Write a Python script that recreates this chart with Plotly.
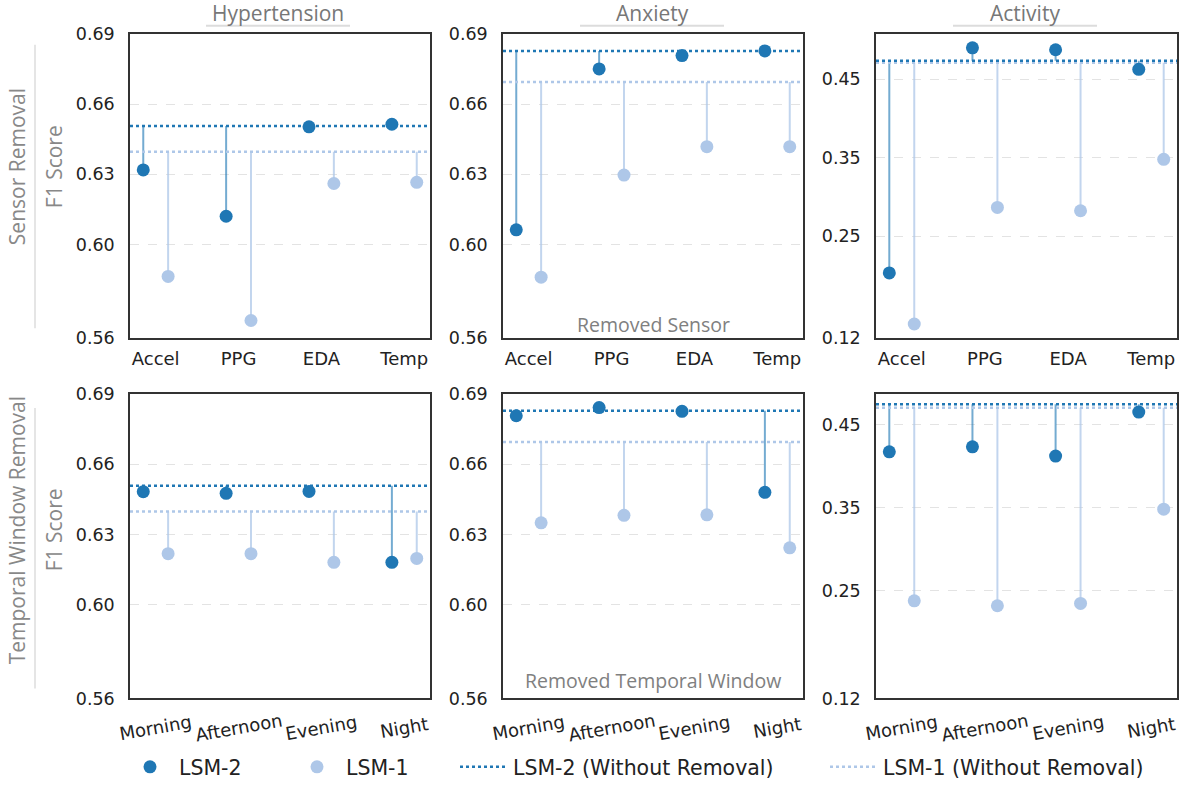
import plotly.graph_objects as go

W, H = 1181, 787

# ---------------- data ----------------
tasks = ["Hypertension", "Anxiety", "Activity"]
sensor_cats = ["Accel", "PPG", "EDA", "Temp"]
window_cats = ["Morning", "Afternoon", "Evening", "Night"]

# baselines (without removal)
lsm2_base_sensor = [0.6506, 0.6827, 0.4737]
lsm1_base_sensor = [0.6397, 0.6694, 0.4712]
lsm2_base_window = [0.6508, 0.6828, 0.4747]
lsm1_base_window = [0.6398, 0.6695, 0.4704]

# sensor removal
hyp_sensor_lsm2 = [0.6319, 0.6121, 0.6503, 0.6514]
hyp_sensor_lsm1 = [0.5864, 0.5676, 0.6261, 0.6266]
anx_sensor_lsm2 = [0.6063, 0.6750, 0.6807, 0.6827]
anx_sensor_lsm1 = [0.5861, 0.6297, 0.6418, 0.6418]
act_sensor_lsm2 = [0.2033, 0.4902, 0.4877, 0.4627]
act_sensor_lsm1 = [0.1382, 0.2867, 0.2825, 0.3480]

# temporal window removal
hyp_window_lsm2 = [0.6483, 0.6476, 0.6484, 0.6181]
hyp_window_lsm1 = [0.6218, 0.6218, 0.6181, 0.6198]
anx_window_lsm2 = [0.6807, 0.6842, 0.6826, 0.6480]
anx_window_lsm1 = [0.6350, 0.6382, 0.6384, 0.6243]
act_window_lsm2 = [0.4173, 0.4233, 0.4121, 0.4652]
act_window_lsm1 = [0.2377, 0.2317, 0.2345, 0.3482]

f1_ticks = [0.56, 0.60, 0.63, 0.66, 0.69]
act_ticks = [0.12, 0.25, 0.35, 0.45]

# ---------------- style ----------------
C2 = "#1f77b4"
C1 = "#aec7e8"
STEM2 = "rgba(31,119,180,0.62)"
STEM1 = "rgba(174,199,232,0.75)"
OFF = 0.15
XR = [-0.31, 3.31]

col_dom = [(130 / W, 430 / W), (503 / W, 803 / W), (876 / W, 1177 / W)]
row_dom = [(1 - 340 / H, 1 - 34 / H), (1 - 702 / H, 1 - 396 / H)]

panels = [
    (0, 0, sensor_cats, hyp_sensor_lsm2, hyp_sensor_lsm1, lsm2_base_sensor[0], lsm1_base_sensor[0], [0.56, 0.69], f1_ticks),
    (0, 1, sensor_cats, anx_sensor_lsm2, anx_sensor_lsm1, lsm2_base_sensor[1], lsm1_base_sensor[1], [0.56, 0.69], f1_ticks),
    (0, 2, sensor_cats, act_sensor_lsm2, act_sensor_lsm1, lsm2_base_sensor[2], lsm1_base_sensor[2], [0.12, 0.508], act_ticks),
    (1, 0, window_cats, hyp_window_lsm2, hyp_window_lsm1, lsm2_base_window[0], lsm1_base_window[0], [0.56, 0.69], f1_ticks),
    (1, 1, window_cats, anx_window_lsm2, anx_window_lsm1, lsm2_base_window[1], lsm1_base_window[1], [0.56, 0.69], f1_ticks),
    (1, 2, window_cats, act_window_lsm2, act_window_lsm1, lsm2_base_window[2], lsm1_base_window[2], [0.12, 0.487], act_ticks),
]

fig = go.Figure()
layout = {}
annotations = []
shapes = []
tick_font = dict(family="DejaVu Sans", size=18, color="#222")
ytick_font = dict(family="DejaVu Sans", size=17.5, color="#222")

for idx, (r, c, cats, v2, v1, b2, b1, yr, yt) in enumerate(panels):
    k = idx + 1
    xa = "x" if k == 1 else f"x{k}"
    ya = "y" if k == 1 else f"y{k}"
    first = k == 1
    n = len(cats)
    x2 = [i - OFF for i in range(n)]
    x1 = [i + OFF for i in range(n)]

    sx2, sy2, sx1, sy1 = [], [], [], []
    for i in range(n):
        sx2 += [x2[i], x2[i], None]
        sy2 += [b2, v2[i], None]
        sx1 += [x1[i], x1[i], None]
        sy1 += [b1, v1[i], None]
    fig.add_trace(go.Scatter(x=sx2, y=sy2, mode="lines", line=dict(color=STEM2, width=2),
                             xaxis=xa, yaxis=ya, showlegend=False, hoverinfo="skip"))
    fig.add_trace(go.Scatter(x=sx1, y=sy1, mode="lines", line=dict(color=STEM1, width=2),
                             xaxis=xa, yaxis=ya, showlegend=False, hoverinfo="skip"))
    fig.add_trace(go.Scatter(x=XR, y=[b1, b1], mode="lines", line=dict(color=C1, width=2.5, dash="dot"),
                             xaxis=xa, yaxis=ya, name="LSM-1 (Without Removal)",
                             showlegend=first, legend="legend4"))
    fig.add_trace(go.Scatter(x=XR, y=[b2, b2], mode="lines", line=dict(color=C2, width=2.5, dash="dot"),
                             xaxis=xa, yaxis=ya, name="LSM-2 (Without Removal)",
                             showlegend=first, legend="legend3"))
    fig.add_trace(go.Scatter(x=x1, y=v1, mode="markers", marker=dict(color=C1, size=13),
                             xaxis=xa, yaxis=ya, name="LSM-1", showlegend=first, legend="legend2"))
    fig.add_trace(go.Scatter(x=x2, y=v2, mode="markers", marker=dict(color=C2, size=13),
                             xaxis=xa, yaxis=ya, name="LSM-2", showlegend=first, legend="legend"))

    xkey = "xaxis" if k == 1 else f"xaxis{k}"
    ykey = "yaxis" if k == 1 else f"yaxis{k}"
    layout[xkey] = dict(domain=list(col_dom[c]), anchor=ya, range=XR,
                        tickvals=list(range(n)), ticktext=cats, showticklabels=(r == 0),
                        showgrid=False, zeroline=False, showline=True, mirror=True,
                        linecolor="#333", linewidth=1.5, ticks="", tickfont=tick_font,
                        ticklabelstandoff=3, automargin=False)
    layout[ykey] = dict(domain=list(row_dom[r]), anchor=xa, range=yr,
                        tickvals=yt, tickformat=".2f", showgrid=True, gridcolor="#e3e3e3",
                        griddash="dash", gridwidth=1, zeroline=False, showline=True, mirror=True,
                        linecolor="#333", linewidth=1.5, ticks="", tickfont=ytick_font,
                        ticklabelstandoff=10, automargin=False)
    if r == 1:
        # rotated, centred category labels
        for i, lab in enumerate(cats):
            annotations.append(dict(text=lab, x=i, xref=xa, y=1 - 731 / H, yref="paper",
                                    showarrow=False, textangle=-10, font=tick_font,
                                    xanchor="center", yanchor="middle"))

title_font = dict(family="Open Sans", size=21, color="#777")
title_cx = [278, 652, 1025]
for t, cx in zip(tasks, title_cx):
    annotations.append(dict(text=t, x=cx / W, y=1 - 13 / H, xref="paper", yref="paper",
                            showarrow=False, font=title_font, xanchor="center", yanchor="middle"))
    shapes.append(dict(type="line", xref="paper", yref="paper", x0=(cx - 72) / W, x1=(cx + 72) / W,
                       y0=1 - 26 / H, y1=1 - 26 / H, line=dict(color="#dcdcdc", width=2)))

side_font = dict(family="Open Sans", size=21, color="#888")
for label, cy, y0, y1 in [("Sensor Removal", 168, 45, 330), ("Temporal Window Removal", 533, 410, 692)]:
    annotations.append(dict(text=label, x=17 / W, y=1 - cy / H, xref="paper", yref="paper",
                            showarrow=False, font=side_font, textangle=-90,
                            xanchor="center", yanchor="middle"))
    annotations.append(dict(text="F1 Score", x=54 / W, y=1 - cy / H, xref="paper", yref="paper",
                            showarrow=False, font=side_font, textangle=-90,
                            xanchor="center", yanchor="middle"))
    shapes.append(dict(type="line", xref="paper", yref="paper", x0=35 / W, x1=35 / W,
                       y0=1 - y1 / H, y1=1 - y0 / H, line=dict(color="#dcdcdc", width=1.5)))

inner_font = dict(family="Open Sans", size=19.5, color="#808080")
annotations.append(dict(text="Removed Sensor", x=653 / W, y=1 - 326 / H, xref="paper", yref="paper",
                        showarrow=False, font=inner_font, xanchor="center", yanchor="middle"))
annotations.append(dict(text="Removed Temporal Window", x=653 / W, y=1 - 684 / H, xref="paper", yref="paper",
                        showarrow=False, font=inner_font, xanchor="center", yanchor="middle"))

leg_font = dict(family="DejaVu Sans", size=20.5, color="#222")
leg_common = dict(orientation="h", yanchor="middle", y=1 - 771 / H, xanchor="left",
                  font=leg_font, bgcolor="rgba(0,0,0,0)", borderwidth=0, itemwidth=48)
layout["legend"] = dict(x=121 / W, **leg_common)
layout["legend2"] = dict(x=288 / W, **leg_common)
layout["legend3"] = dict(x=455 / W, **leg_common)
layout["legend4"] = dict(x=825 / W, **leg_common)

fig.update_layout(width=W, height=H, margin=dict(l=0, r=0, t=0, b=0),
                  plot_bgcolor="white", paper_bgcolor="white",
                  annotations=annotations, shapes=shapes, **layout)

fig.write_html("out.html", config={"displayModeBar": False},
               post_script="document.body.style.margin='0';document.body.style.overflow='hidden';")
